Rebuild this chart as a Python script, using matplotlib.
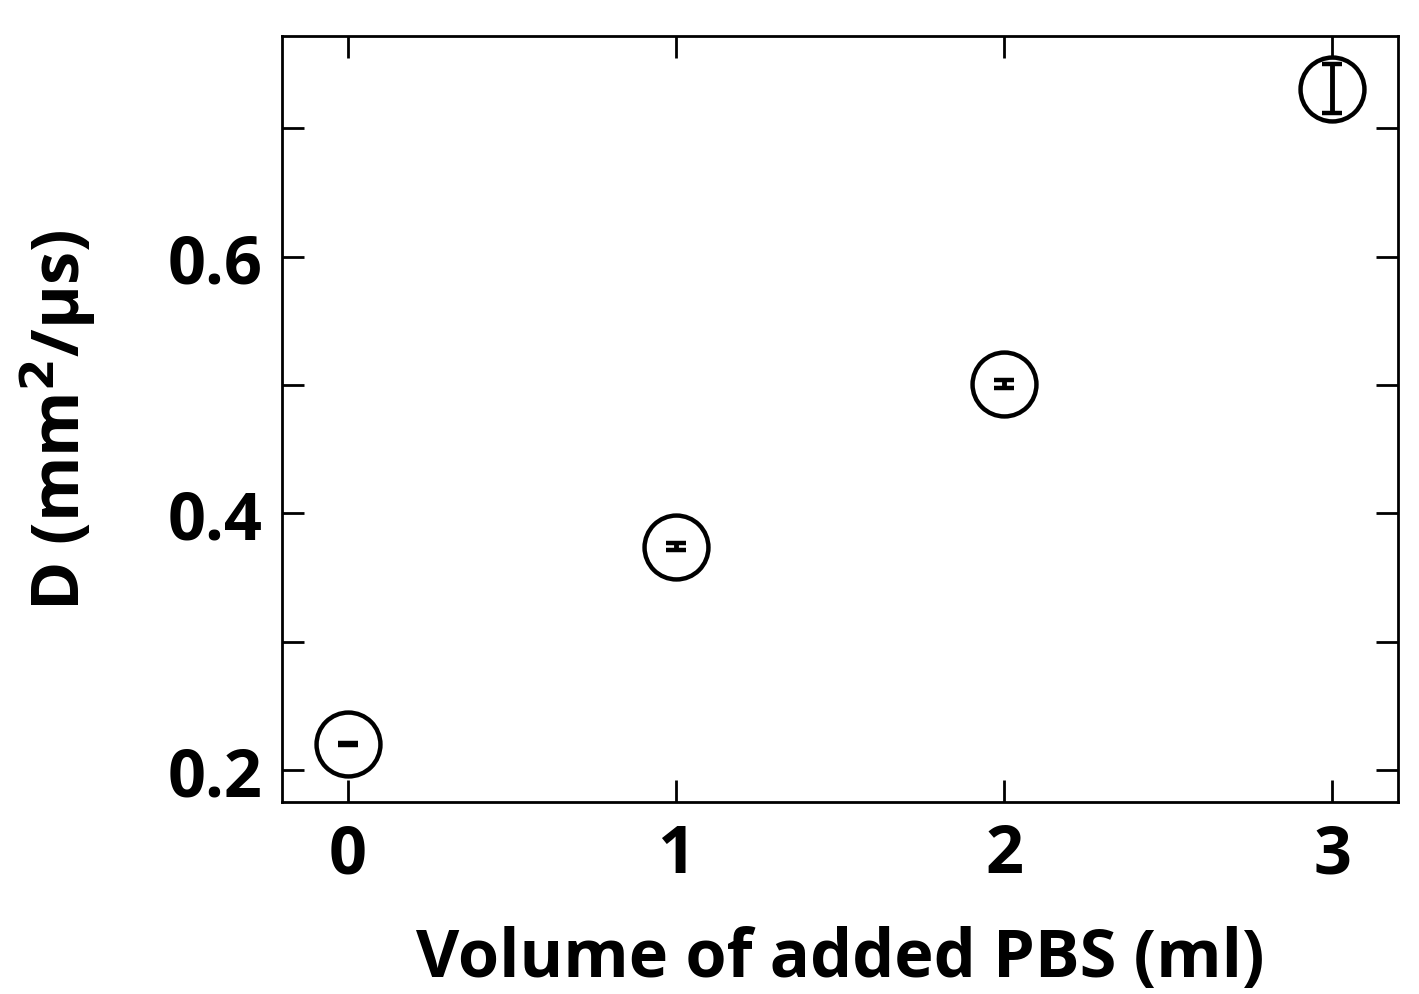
import numpy as np
import matplotlib
matplotlib.use("Agg")
import matplotlib.pyplot as plt

# data
volume = [0, 1, 2, 3]
D = [0.220, 0.374, 0.501, 0.731]
D_err = [0.0008, 0.0025, 0.003, 0.019]

plt.rcParams['font.family'] = ['Open Sans', 'DejaVu Sans']
plt.rcParams['font.weight'] = 'bold'

fig = plt.figure(figsize=(14.19, 9.95), dpi=100)
ax = fig.add_axes([282/1419, 1 - 803/995, (1398-282)/1419, (803-37)/995])

ax.errorbar(volume, D, yerr=D_err, fmt='o', mfc='none', mec='black', mew=3.2,
            ms=46, ecolor='black', elinewidth=3.5, capsize=7, capthick=3.5)

ax.set_xlim(-0.2, 3.2)
ax.set_ylim(0.175, 0.772)
ax.set_xticks([0, 1, 2, 3])
ax.set_yticks([0.2, 0.4, 0.6])
ax.set_yticks([0.3, 0.5, 0.7], minor=True)
ax.set_yticklabels(['0.2', '0.4', '0.6'])
ax.tick_params(which='both', direction='in', top=True, right=True, length=16,
               width=2, labelsize=48, pad=14)
for s in ax.spines.values():
    s.set_linewidth(2)

ax.set_xlabel('Volume of added PBS (ml)', fontsize=48, fontweight='bold', labelpad=26)
ax.set_ylabel('D (mm$^2$/\u00b5s)', fontsize=48, fontweight='bold', labelpad=50)

fig.savefig('out.png', dpi=100)
